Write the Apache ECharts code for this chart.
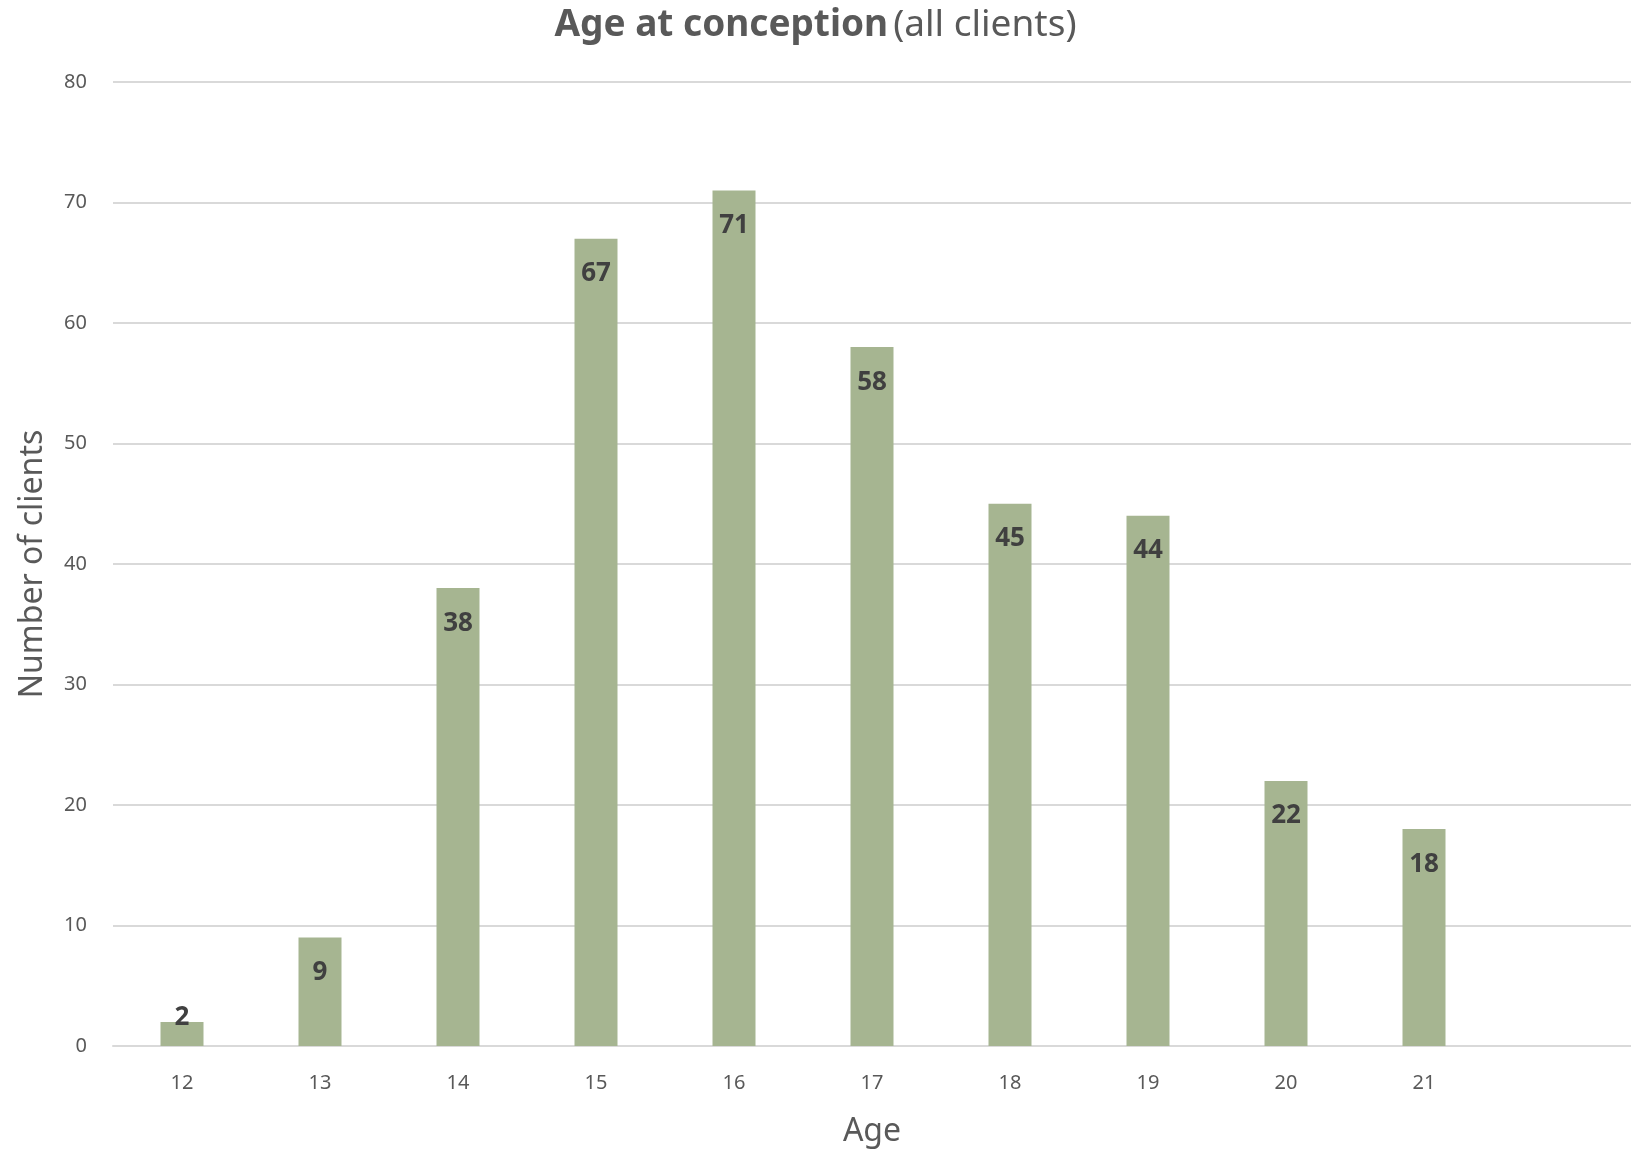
<!DOCTYPE html>
<html>
<head>
<meta charset="utf-8">
<script src="https://cdn.jsdelivr.net/npm/echarts@6/dist/echarts.min.js"></script>
<style>
html,body{margin:0;padding:0;background:#fff;}
#chart{width:1631px;height:1153px;}
</style>
</head>
<body>
<div id="chart"></div>
<script>
const categories = ['12','13','14','15','16','17','18','19','20','21',''];
const clients = [2, 9, 38, 67, 71, 58, 45, 44, 22, 18, null];
const yTicks = { min: 0, max: 80, interval: 10 };

const FONT = '"Noto Sans", "Open Sans", sans-serif';
const chart = echarts.init(document.getElementById('chart'));
chart.setOption({
  backgroundColor: '#ffffff',
  animation: false,
  title: {
    text: '{b|Age at conception} {n|(all clients)}',
    left: 'center',
    top: 2,
    textStyle: {
      rich: {
        b: { fontFamily: FONT, fontSize: 37, fontWeight: 'bold', color: '#595959' },
        n: { fontFamily: FONT, fontSize: 37, fontWeight: 'normal', color: '#595959' }
      }
    }
  },
  grid: { left: 113, right: 0, top: 82, bottom: 103, containLabel: false },
  xAxis: {
    type: 'category',
    data: categories,
    name: 'Age',
    nameLocation: 'middle',
    nameGap: 70,
    nameTextStyle: { fontFamily: FONT, fontSize: 32, color: '#595959' },
    axisLine: { show: true, lineStyle: { color: '#D9D9D9', width: 2 } },
    axisTick: { show: false },
    axisLabel: { fontFamily: FONT, fontSize: 20, color: '#595959', margin: 27 }
  },
  yAxis: {
    type: 'value',
    min: yTicks.min, max: yTicks.max, interval: yTicks.interval,
    name: 'Number of clients',
    nameLocation: 'middle',
    nameGap: 64,
    nameTextStyle: { fontFamily: FONT, fontSize: 32, color: '#595959' },
    axisLine: { show: false },
    axisTick: { show: false },
    axisLabel: { fontFamily: FONT, fontSize: 20, color: '#595959', margin: 26 },
    splitLine: { lineStyle: { color: '#D9D9D9', width: 2 } }
  },
  series: [{
    type: 'bar',
    barWidth: 43,
    itemStyle: { color: '#A6B591' },
    data: clients.map(v => (v !== null && v < 5)
      ? { value: v, label: { position: 'top', distance: -9 } }
      : v),
    label: {
      show: true,
      position: 'insideTop',
      distance: 22,
      fontFamily: FONT,
      fontSize: 26,
      fontWeight: 'bold',
      color: '#404040'
    }
  }]
});
</script>
</body>
</html>
